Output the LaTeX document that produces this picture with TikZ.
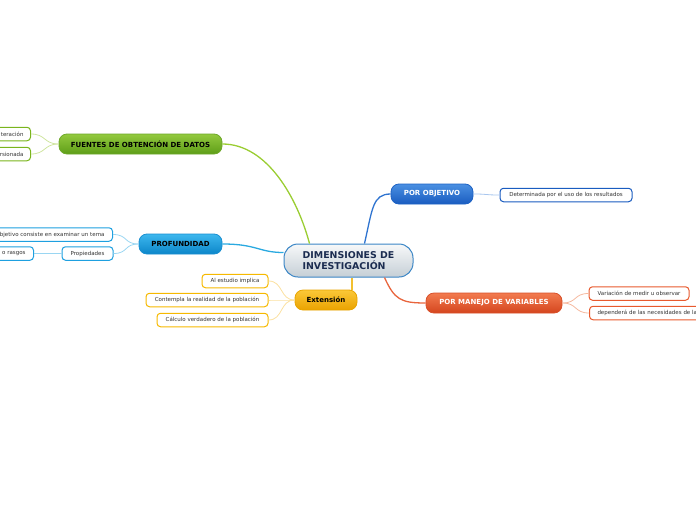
\documentclass[tikz,border=0pt]{standalone}
\usepackage{fontspec}
\setmainfont{DejaVu Sans}
\usepackage{xcolor}
\definecolor{hojatinta}{HTML}{333333}
\definecolor{centrotinta}{HTML}{1B2C50}
\definecolor{centroarriba}{HTML}{F7F8F9}
\definecolor{centroabajo}{HTML}{C5CFD6}
\definecolor{centroborde}{HTML}{3B86C6}
\definecolor{verdearriba}{HTML}{93C93E}
\definecolor{verdeabajo}{HTML}{5E9E18}
\definecolor{verdeborde}{HTML}{6EA82A}
\definecolor{verdehoja}{HTML}{7AB51D}
\definecolor{verderama}{HTML}{9ACD32}
\definecolor{verdeclaro}{HTML}{CFE5A0}
\definecolor{celestearriba}{HTML}{3DB7EE}
\definecolor{celesteabajo}{HTML}{0C86C9}
\definecolor{celesteborde}{HTML}{1A8FD0}
\definecolor{celestehoja}{HTML}{1EA0E0}
\definecolor{celesterama}{HTML}{2AA9E0}
\definecolor{celesteclaro}{HTML}{9AD6F2}
\definecolor{azularriba}{HTML}{4A90E2}
\definecolor{azulabajo}{HTML}{1A5CC0}
\definecolor{azulborde}{HTML}{1D62C4}
\definecolor{azulhoja}{HTML}{1A5CC0}
\definecolor{azulrama}{HTML}{2F74D0}
\definecolor{azulclaro}{HTML}{A8C6EE}
\definecolor{oroarriba}{HTML}{FBC838}
\definecolor{oroabajo}{HTML}{EAA200}
\definecolor{oroborde}{HTML}{E8A400}
\definecolor{orohoja}{HTML}{F6B900}
\definecolor{ororama}{HTML}{F2C030}
\definecolor{oroclaro}{HTML}{FBE0A0}
\definecolor{rojoarriba}{HTML}{F27B4F}
\definecolor{rojoabajo}{HTML}{D4451E}
\definecolor{rojoborde}{HTML}{D8502A}
\definecolor{rojohoja}{HTML}{E85A2E}
\definecolor{rojorama}{HTML}{E8643C}
\definecolor{rojoclaro}{HTML}{F5B89E}

\begin{document}
\begin{tikzpicture}[x=1pt, y=-1pt,
                    every node/.style={font=\fontsize{5.5}{6.5}\selectfont, text=hojatinta},
                    tema/.style={rounded corners=8pt, line width=0.8pt, minimum height=20pt,
                                 inner sep=0pt, font=\fontsize{7}{8}\selectfont\bfseries},
                    hoja/.style={draw, rounded corners=3.5pt, fill=white, line width=1pt,
                                 minimum height=13.5pt, inner xsep=4pt, inner ysep=0pt},
                    rama/.style={line width=1.3pt},
                    ramita/.style={line width=0.8pt}]

\useasboundingbox (0,0) rectangle (696,520);
\clip (0,0) rectangle (696,520);

%% ==== 中心主題 ====
\node[draw=centroborde, line width=1pt, rounded corners=14pt,
      top color=centroarriba, bottom color=centroabajo,
      minimum width=129pt, minimum height=33pt, inner sep=0pt, align=left,
      font=\fontsize{9.4}{11}\selectfont\bfseries, text=centrotinta]
  (centro) at (348.5,260.5) {DIMENSIONES DE\\INVESTIGACIÓN};

%% ==== 五個分支 ====
\node[tema, draw=verdeborde, top color=verdearriba, bottom color=verdeabajo,
      minimum width=163pt, text=black] (fuentes) at (140.5,144) {FUENTES DE OBTENCIÓN DE DATOS};
\node[tema, draw=celesteborde, top color=celestearriba, bottom color=celesteabajo,
      minimum width=83pt, text=black] (profundidad) at (180.5,244) {PROFUNDIDAD};
\node[tema, draw=oroborde, top color=oroarriba, bottom color=oroabajo,
      minimum width=62pt, text=black] (extension) at (326,300) {Extensión};
\node[tema, draw=azulborde, top color=azularriba, bottom color=azulabajo,
      minimum width=82pt, text=white] (objetivo) at (432,194) {POR OBJETIVO};
\node[tema, draw=rojoborde, top color=rojoarriba, bottom color=rojoabajo,
      minimum width=136pt, text=white] (manejo) at (494,303) {POR MANEJO DE VARIABLES};

%% ==== 葉節點 (左緣與右緣被畫框切掉) ====
\node[hoja, draw=verdehoja, anchor=east, text width=50pt, align=right, inner xsep=7pt]
  (fa) at (31,134) {teración};
\node[hoja, draw=verdehoja, anchor=east, text width=50pt, align=right, inner xsep=7pt]
  (fb) at (31,154) {ersionada};

\node[hoja, draw=celestehoja, anchor=east, text width=130pt, align=right, inner xsep=8pt]
  (pa) at (113,234.5) {bjetivo consiste en examinar un tema};
\node[hoja, draw=celestehoja, minimum width=51pt] (pb) at (87.5,253.5) {Propiedades};
\node[hoja, draw=celestehoja, anchor=east, text width=50pt, align=right, inner xsep=8pt]
  (pc) at (34,253.5) {o rasgos};

\node[hoja, draw=orohoja, minimum width=66pt]  (ea) at (235,281)   {Al estudio implica};
\node[hoja, draw=orohoja, minimum width=122pt] (eb) at (207,300)   {Contempla la realidad de la población};
\node[hoja, draw=orohoja, minimum width=111pt] (ec) at (212.5,320) {Cálculo verdadero de la población};

\node[hoja, draw=azulhoja, minimum width=132pt] (oa) at (566,195) {Determinada por el uso de los resultados};

\node[hoja, draw=rojohoja, minimum width=100pt] (ma) at (639,293.5) {Variación de medir u observar};
\node[hoja, draw=rojohoja, anchor=west, text width=130pt, align=left, inner xsep=8pt]
  (mb) at (589,313) {dependerá de las necesidades de la};

%% ==== 中心到分支的連線 ====
\draw[rama, verderama] (fuentes.east) .. controls +(45,0) and +(-12,-45) .. ([xshift=26pt]centro.north west);
\draw[rama, celesterama] (profundidad.east) .. controls +(35,0) and +(-25,0) .. ([yshift=8pt]centro.west);
\draw[rama, azulrama] ([xshift=16pt]centro.north) .. controls +(8,-35) and +(-18,0) .. (objetivo.west);
\draw[rama, ororama] ([xshift=3.5pt]centro.south) .. controls +(0,6) and +(0,-6) .. ([xshift=26pt]extension.north);
\draw[rama, rojorama] ([xshift=36pt]centro.south) .. controls +(10,22) and +(-25,0) .. (manejo.west);

%% ==== 分支到葉節點的連線 ====
\foreach \h in {fa,fb}
  \draw[ramita, verdeclaro] (fuentes.west) .. controls +(-15,0) and +(15,0) .. (\h.east);
\foreach \h in {pa,pb}
  \draw[ramita, celesteclaro] (profundidad.west) .. controls +(-15,0) and +(15,0) .. (\h.east);
\draw[ramita, celesteclaro] (pb.west) -- (pc.east);
\foreach \h in {ea,eb,ec}
  \draw[ramita, oroclaro] (extension.west) .. controls +(-15,0) and +(15,0) .. (\h.east);
\draw[ramita, azulclaro] (objetivo.east) .. controls +(15,0) and +(-15,0) .. (oa.west);
\foreach \h in {ma,mb}
  \draw[ramita, rojoclaro] (manejo.east) .. controls +(15,0) and +(-15,0) .. (\h.west);

\end{tikzpicture}
\end{document}
